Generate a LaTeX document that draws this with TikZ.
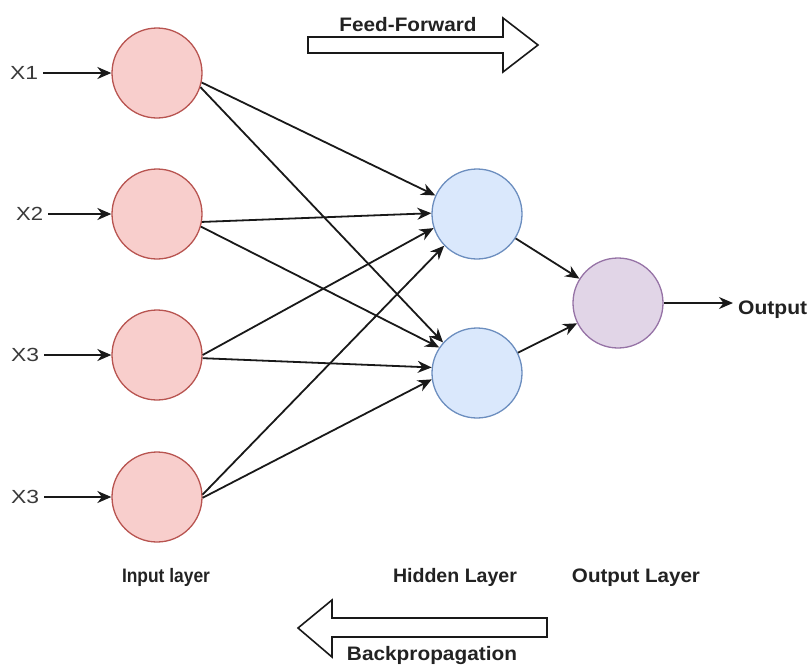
\documentclass[tikz,border=0pt]{standalone}
\usepackage{fontspec}
\setmainfont{Liberation Sans}
\usetikzlibrary{arrows.meta}
% set a label to a given width while keeping its natural height
\newcommand{\fitw}[2]{\resizebox{#1}{\height}{#2}}
\definecolor{inStroke}{HTML}{B85450}
\definecolor{inFill}{HTML}{F8CECC}
\definecolor{hidStroke}{HTML}{6C8EBF}
\definecolor{hidFill}{HTML}{DAE8FC}
\definecolor{outStroke}{HTML}{9673A6}
\definecolor{outFill}{HTML}{E1D5E7}
\definecolor{ink}{HTML}{222222}
\definecolor{xink}{HTML}{3A3A3A}
\begin{document}
\begin{tikzpicture}[x=1pt,y=-1pt,
  neuron/.style={circle, minimum size=90pt, inner sep=0pt, line width=1.3pt},
  inneuron/.style={neuron, draw=inStroke, fill=inFill},
  hidneuron/.style={neuron, draw=hidStroke, fill=hidFill},
  outneuron/.style={neuron, draw=outStroke, fill=outFill},
  link/.style={line width=1.8pt, draw=black!90, -{Stealth[length=14pt,width=12pt]}},
  xlabel/.style={anchor=base west, inner sep=0pt, text=xink, font=\fontsize{19}{21}\selectfont},
  lbl/.style={anchor=base, inner sep=0pt, text=ink, font=\fontsize{19.5}{21}\selectfont\bfseries},
  bigarrow/.style={draw=black!90, fill=white, line width=1.6pt, line join=miter}
]
\useasboundingbox (0,0) rectangle (809,665);

% neurons
\node[inneuron] (in1) at (157,73) {};
\node[inneuron] (in2) at (157,214) {};
\node[inneuron] (in3) at (157,355) {};
\node[inneuron] (in4) at (157,497) {};
\node[hidneuron] (h1) at (477,214) {};
\node[hidneuron] (h2) at (477,373) {};
\node[outneuron] (o1) at (618,303) {};

% input labels
\node[xlabel] (x1) at (10,79) {\fitw{28pt}{X1}};
\node[xlabel] (x2) at (16,220) {\fitw{27pt}{X2}};
\node[xlabel] (x3) at (11,361) {\fitw{28pt}{X3}};
\node[xlabel] (x4) at (11,503) {\fitw{28pt}{X3}};
\foreach \i in {1,...,4}{
  \draw[link, shorten <=5pt] (x\i.east |- in\i) -- (in\i);
}

% weights input -> hidden (leaving each input near its right side)
\draw[link] (in1.-12) -- (h1.156);
\draw[link] (in1.-18) -- (h2.138);
\draw[link] (in2.-10) -- (h1.179);
\draw[link] (in2.-16) -- (h2.146);
\draw[link] (in3.0)   -- (h1.198);
\draw[link] (in3.-4)  -- (h2.173);
\draw[link] (in4.3)   -- (h1.224);
\draw[link] (in4.-1)  -- (h2.188);
% hidden -> output
\draw[link] (h1) -- (o1);
\draw[link] (h2) -- (o1);

% network output
\node[anchor=base west, inner sep=0pt, text=ink, font=\fontsize{19.5}{21}\selectfont\bfseries] (outlbl) at (738,314) {\fitw{69pt}{Output}};
\draw[link, shorten >=5pt] (o1) -- (outlbl.west |- o1);

% layer captions
\node[lbl] (capin) at (166,582) {\fitw{88pt}{Input layer}};
\node[lbl] (caphid) at (455,582) {\fitw{124pt}{Hidden Layer}};
\node[lbl] (capout) at (636,582) {\fitw{128pt}{Output Layer}};

% direction arrows
\draw[bigarrow] (308,37) -- (503,37) -- (503,18) -- (538,45) -- (503,72) -- (503,53) -- (308,53) -- cycle;
\node[lbl] (ff) at (408,31) {\fitw{137pt}{Feed-Forward}};
\draw[bigarrow] (547,618) -- (332,618) -- (332,600) -- (298,628) -- (332,657) -- (332,637) -- (547,637) -- cycle;
\node[lbl] (bp) at (432,660) {\fitw{170pt}{Backpropagation}};
\end{tikzpicture}
\end{document}
